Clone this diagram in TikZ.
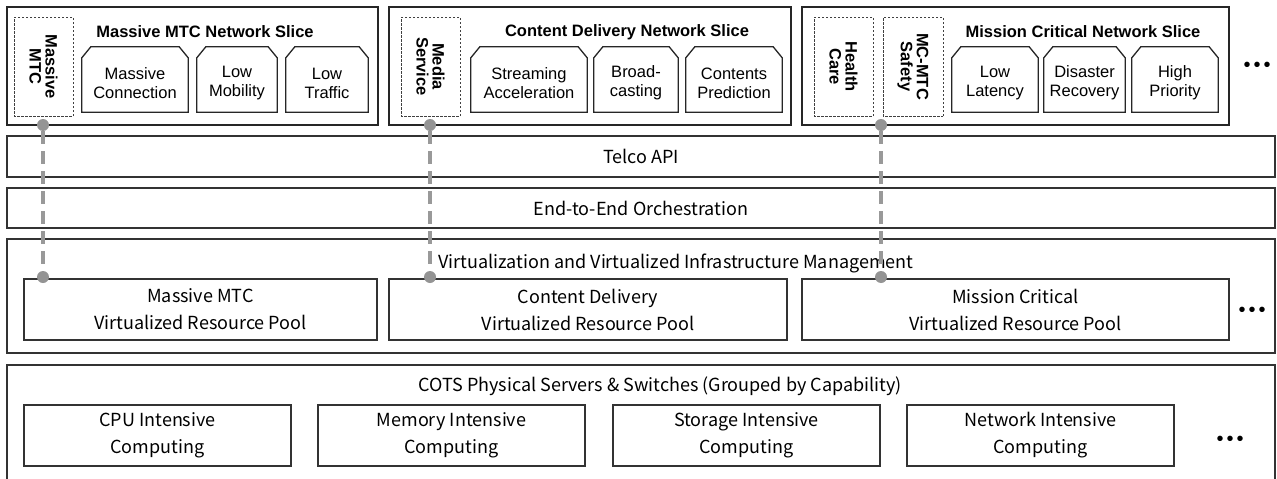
\documentclass[tikz,border=0pt]{standalone}
\usepackage{fontspec}
\setmainfont{Liberation Sans}
\newfontfamily\kfont{Noto Sans CJK KR}
\begin{document}
\begin{tikzpicture}[x=1pt,y=-1pt,
  slicebox/.style={draw=black!85, line width=1.5pt, inner sep=0pt},
  dashbox/.style={draw=black!75, line width=0.8pt, dash pattern=on 2.5pt off 1.5pt, inner sep=0pt, minimum width=99pt, minimum height=59pt, align=center, font=\bfseries\fontsize{16.5}{16}\selectfont},
  svc/.style={rectangle, inner sep=0pt, minimum height=65pt},
  svcline/.style={draw=black!85, line width=1.3pt, line join=miter},
  svctext/.style={inner sep=0pt, align=center, font=\fontsize{16.5}{19}\selectfont},
  title/.style={font=\bfseries\fontsize{16.5}{18}\selectfont, inner sep=0pt},
  bar/.style={draw=black!80, line width=1.2pt, inner sep=0pt, font=\kfont\fontsize{18}{27}\selectfont, align=center},
  lbl/.style={inner sep=0pt, font=\kfont\fontsize{18}{27}\selectfont},
  dot/.style={circle, fill=black!42, inner sep=0pt, minimum size=12pt},
  conn/.style={draw=black!40, line width=4pt, dash pattern=on 13pt off 7pt},
  more/.style={inner sep=0pt, font=\fontsize{20}{20}\selectfont}
]
\useasboundingbox (0,0) rectangle (1277,479);

% slices
\node[slicebox, minimum width=371pt, minimum height=118pt] (s1) at (192.5,66) {};
\node[slicebox, minimum width=402pt, minimum height=118pt] (s2) at (590,66) {};
\node[slicebox, minimum width=427pt, minimum height=118pt] (s3) at (1015.5,66) {};

\node[title] (t1) at (205,32) {Massive MTC Network Slice};
\node[title] (t2) at (627,32) {Content Delivery Network Slice};
\node[title] (t3) at (1083,32) {Mission Critical Network Slice};

\node[dashbox, rotate=-90] (d1) at (43.5,66.5) {Massive\\MTC};
\node[dashbox, rotate=-90] (d2) at (430.5,66.5) {Media\\Service};
\node[dashbox, rotate=-90] (d3) at (843.5,66.5) {Health\\Care};
\node[dashbox, rotate=-90, minimum height=60pt] (d4) at (913,66.5) {MC-MTC\\Safety};

\node[svc, minimum width=106pt] (a1) at (135,79.5) {};
\node[svc, minimum width=80pt] (a2) at (237,79.5) {};
\node[svc, minimum width=82pt] (a3) at (327,79.5) {};
\node[svc, minimum width=116pt] (b1) at (529,79.5) {};
\node[svc, minimum width=84pt] (b2) at (636,79.5) {};
\node[svc, minimum width=96pt] (b3) at (734,79.5) {};
\node[svc, minimum width=86pt] (c1) at (995,79.5) {};
\node[svc, minimum width=81pt] (c2) at (1084.5,79.5) {};
\node[svc, minimum width=86pt] (c3) at (1175,79.5) {};
\foreach \n in {a1,a2,a3,b1,b2,b3,c1,c2,c3}
  \draw[svcline] (\n.south west) -- ([yshift=-11pt]\n.north west) -- ([xshift=9pt]\n.north west)
    -- ([xshift=-9pt]\n.north east) -- ([yshift=-11pt]\n.north east) -- (\n.south east) -- cycle;
\node[svctext] (a1t) at (135,83) {Massive\\Connection};
\node[svctext] (a2t) at (237,83) {Low\\Mobility};
\node[svctext] (a3t) at (327,83) {Low\\Traffic};
\node[svctext] (b1t) at (529,83) {Streaming\\Acceleration};
\node[svctext] (b2t) at (636,83) {Broad-\\casting};
\node[svctext] (b3t) at (734,83) {Contents\\Prediction};
\node[svctext] (c1t) at (995,83) {Low\\Latency};
\node[svctext] (c2t) at (1084.5,83) {Disaster\\Recovery};
\node[svctext] (c3t) at (1175,83) {High\\Priority};

\node[more] (m1) at (1257,67) {•\hspace{3pt}•\hspace{3pt}•};

% bars
\node[bar, minimum width=1268pt, minimum height=41pt] (telco) at (641,156.5) {Telco API};
\node[bar, minimum width=1268pt, minimum height=40pt] (e2e) at (641,208) {End-to-End Orchestration};
\node[bar, minimum width=1268pt, minimum height=114pt] (virt) at (641,296) {};
\node[lbl] (virtl) at (676,263) {Virtualization and Virtualized Infrastructure Management};

\node[bar, minimum width=353pt, minimum height=61pt] (p1) at (200.5,309.5) {Massive MTC\\Virtualized Resource Pool};
\node[bar, minimum width=398pt, minimum height=61pt] (p2) at (588,309.5) {Content Delivery\\Virtualized Resource Pool};
\node[bar, minimum width=427pt, minimum height=61pt] (p3) at (1015.5,309.5) {Mission Critical\\Virtualized Resource Pool};
\node[more] (m2) at (1252,312) {•\hspace{3pt}•\hspace{3pt}•};

\node[bar, minimum width=1268pt, minimum height=117pt] (cots) at (641,423.5) {};
\node[lbl] (cotsl) at (660,386) {COTS Physical Servers \& Switches (Grouped by Capability)};
\node[bar, minimum width=267pt, minimum height=61pt] (k1) at (157.5,435.5) {CPU Intensive\\Computing};
\node[bar, minimum width=267pt, minimum height=61pt] (k2) at (451.5,435.5) {Memory Intensive\\Computing};
\node[bar, minimum width=267pt, minimum height=61pt] (k3) at (746.5,435.5) {Storage Intensive\\Computing};
\node[bar, minimum width=267pt, minimum height=61pt] (k4) at (1040.5,435.5) {Network Intensive\\Computing};
\node[more] (m3) at (1230,441) {•\hspace{3pt}•\hspace{3pt}•};

% connectors
\node[dot] (u1) at (43,125) {};
\node[dot] (u2) at (430,125) {};
\node[dot] (u3) at (881,125) {};
\node[dot] (v1) at (43,277) {};
\node[dot] (v2) at (430,277) {};
\node[dot] (v3) at (881,277) {};
\draw[conn] (u1) -- (v1);
\draw[conn] (u2) -- (v2);
\draw[conn] (u3) -- (v3);
\end{tikzpicture}
\end{document}
